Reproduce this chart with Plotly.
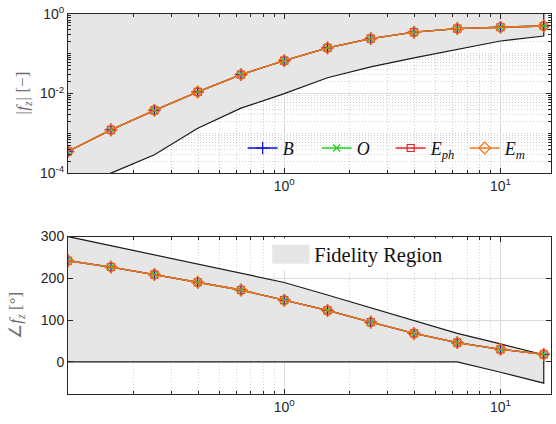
import plotly.graph_objects as go

# ---------------- data ----------------
freq = [0.1, 0.158, 0.251, 0.398, 0.631, 1.0, 1.585, 2.512, 3.981, 6.31, 10.0, 15.85]

mag_B = [3.5e-4, 1.22e-3, 3.8e-3, 0.011, 0.030, 0.067, 0.141, 0.241, 0.349, 0.43, 0.465, 0.50]
mag_O = [3.5e-4, 1.22e-3, 3.8e-3, 0.011, 0.030, 0.067, 0.141, 0.241, 0.349, 0.43, 0.465, 0.50]
mag_Eph = [3.5e-4, 1.22e-3, 3.8e-3, 0.011, 0.030, 0.067, 0.141, 0.241, 0.349, 0.43, 0.465, 0.50]
mag_Em = [3.5e-4, 1.22e-3, 3.8e-3, 0.011, 0.030, 0.067, 0.141, 0.241, 0.349, 0.43, 0.465, 0.50]

ph_B = [242, 227, 209, 190.5, 172, 147.6, 123, 95, 68, 46, 30, 18]
ph_O = [242, 227, 209, 190.5, 172, 147.6, 123, 95, 68, 46, 30, 18]
ph_Eph = [242, 227, 209, 190.5, 172, 147.6, 123, 95, 68, 46, 30, 18]
ph_Em = [242, 227, 209, 190.5, 172, 147.6, 123, 95, 68, 46, 30, 18]

mag_upper = [1.5, 1.5, 1.5, 1.5, 1.5, 1.5, 1.5, 1.5, 1.5, 1.5, 1.5, 1.5]
mag_lower = [3e-5, 1.0e-4, 2.9e-4, 1.35e-3, 4.3e-3, 0.010, 0.025, 0.047, 0.079, 0.13, 0.21, 0.28]

ph_upper = [300, 278, 256, 234, 212, 190, 160, 129, 98, 68, 43, 17]
ph_lower = [0, 0, 0, 0, 0, 0, 0, 0, 0, 0, -25, -51]

x_tickvals = [1, 10]
x_ticktext = ["10<sup>0</sup>", "10<sup>1</sup>"]
mag_tickvals = [1e-4, 1e-2, 1]
mag_ticktext = ["10<sup>-4</sup>", "10<sup>-2</sup>", "10<sup>0</sup>"]
ph_tickvals = [0, 100, 200, 300]

series = [
    ("<i>B</i>", mag_B, ph_B, "#0a0ad8", "cross-thin-open", 9),
    ("<i>O</i>", mag_O, ph_O, "#1ed21e", "x-thin-open", 7),
    ("<i>E</i><sub><i>ph</i></sub>", mag_Eph, ph_Eph, "#e3262a", "square-open", 7),
    ("<i>E</i><sub><i>m</i></sub>", mag_Em, ph_Em, "#f07818", "diamond-open", 9),
]

FILL = "#e6e6e6"
AX = "#262626"

fig = go.Figure()

# fidelity region, magnitude
fig.add_trace(go.Scatter(
    x=freq + freq[::-1], y=mag_upper + mag_lower[::-1],
    fill="toself", fillcolor=FILL, line=dict(width=0), mode="lines",
    showlegend=False, xaxis="x", yaxis="y", hoverinfo="skip"))
fig.add_trace(go.Scatter(
    x=freq + [freq[-1]], y=mag_lower + [mag_upper[-1]], mode="lines",
    line=dict(color="#1a1a1a", width=1.2), showlegend=False, xaxis="x", yaxis="y"))

# fidelity region, phase
fig.add_trace(go.Scatter(
    x=freq + freq[::-1], y=ph_upper + ph_lower[::-1],
    fill="toself", fillcolor=FILL, line=dict(width=0), mode="lines",
    name="Fidelity Region", legend="legend2", showlegend=True,
    xaxis="x2", yaxis="y2", hoverinfo="skip"))
fig.add_trace(go.Scatter(
    x=freq, y=ph_upper, mode="lines",
    line=dict(color="#1a1a1a", width=1.2), showlegend=False, xaxis="x2", yaxis="y2"))
fig.add_trace(go.Scatter(
    x=freq + [freq[-1]], y=ph_lower + [ph_upper[-1]], mode="lines",
    line=dict(color="#1a1a1a", width=1.2), showlegend=False, xaxis="x2", yaxis="y2"))

for name, m, p, col, sym, sz in series:
    mk = dict(symbol=sym, size=sz, color=col, line=dict(color=col, width=1.2))
    fig.add_trace(go.Scatter(x=freq, y=m, mode="lines+markers", name=name,
                             line=dict(color=col, width=1.3), marker=mk,
                             legend="legend", xaxis="x", yaxis="y"))
    fig.add_trace(go.Scatter(x=freq, y=p, mode="lines+markers", name=name,
                             line=dict(color=col, width=1.3), marker=mk,
                             showlegend=False, xaxis="x2", yaxis="y2"))

tickfont = dict(family="Liberation Sans, Arial, sans-serif", size=14, color=AX)
DOT = "1px,2px"
common_x = dict(
    type="log", range=[-1, 1.2335], tickmode="array", tickvals=x_tickvals,
    showline=True, linecolor=AX, linewidth=1, mirror="allticks",
    ticks="inside", ticklen=5, tickcolor=AX,
    showgrid=True, gridcolor="#dcdcdc", gridwidth=1,
    minor=dict(dtick="D1", ticks="inside", ticklen=3, tickcolor=AX,
               showgrid=True, gridcolor="#d2d2d2", griddash=DOT, gridwidth=1),
    zeroline=False, tickfont=tickfont,
)

fig.update_layout(
    width=556, height=424,
    margin=dict(l=68, r=4, t=12, b=30),
    paper_bgcolor="white", plot_bgcolor="white",
    xaxis=dict(common_x, domain=[0, 1], anchor="y", ticktext=x_ticktext),
    xaxis2=dict(common_x, domain=[0, 1], anchor="y2", ticktext=x_ticktext),
    yaxis=dict(
        type="log", range=[-4, 0], domain=[0.5812, 1], anchor="x",
        tickmode="array", tickvals=mag_tickvals, ticktext=mag_ticktext,
        showline=True, linecolor=AX, linewidth=1, mirror="allticks",
        ticks="inside", ticklen=5, tickcolor=AX,
        showgrid=True, gridcolor="#dcdcdc",
        minor=dict(dtick="D1", ticks="inside", ticklen=3, tickcolor=AX,
                   showgrid=True, gridcolor="#d2d2d2", griddash=DOT),
        zeroline=False, tickfont=tickfont,
        title=dict(text="<i>|f</i><sub><i>z</i></sub><i>|</i> [−]",
                   font=dict(family="Liberation Serif, serif", size=17, color="#6e6e6e"),
                   standoff=6),
    ),
    yaxis2=dict(
        range=[-77, 300], domain=[0, 0.4144], anchor="x2",
        tickmode="array", tickvals=ph_tickvals,
        showline=True, linecolor=AX, linewidth=1, mirror="allticks",
        ticks="inside", ticklen=5, tickcolor=AX,
        showgrid=True, gridcolor="#dcdcdc",
        zeroline=False, tickfont=tickfont,
        title=dict(text="∠<i>f</i><sub><i>z</i></sub> [°]",
                   font=dict(family="Liberation Serif, serif", size=17, color="#6e6e6e"),
                   standoff=14),
    ),
    legend=dict(
        orientation="h", x=0.3616, xanchor="left", y=0.6466, yanchor="middle",
        bgcolor="rgba(0,0,0,0)", borderwidth=0, itemsizing="trace",
        font=dict(family="Liberation Serif, serif", size=18, color="#111111"),
        itemwidth=30, tracegroupgap=0, entrywidth=29, entrywidthmode="pixels",
    ),
    legend2=dict(
        x=0.427, xanchor="left", y=0.3678, yanchor="middle",
        bgcolor="rgba(0,0,0,0)", borderwidth=0,
        font=dict(family="Liberation Serif, serif", size=20.5, color="#111111"),
    ),
    shapes=[
        # white legend box background and enlarged legend swatch
        dict(type="rect", xref="paper", yref="paper", layer="above",
             x0=0.412, x1=0.80, y0=0.325, y1=0.41,
             fillcolor="white", line=dict(width=0)),
        dict(type="rect", xref="paper", yref="paper", layer="above",
             x0=0.4229, x1=0.50, y0=0.3429, y1=0.3927,
             fillcolor=FILL, line=dict(width=0)),
    ],
)

fig.write_html("out.html", config={"displayModeBar": False},
               post_script="document.body.style.margin='0px';")
